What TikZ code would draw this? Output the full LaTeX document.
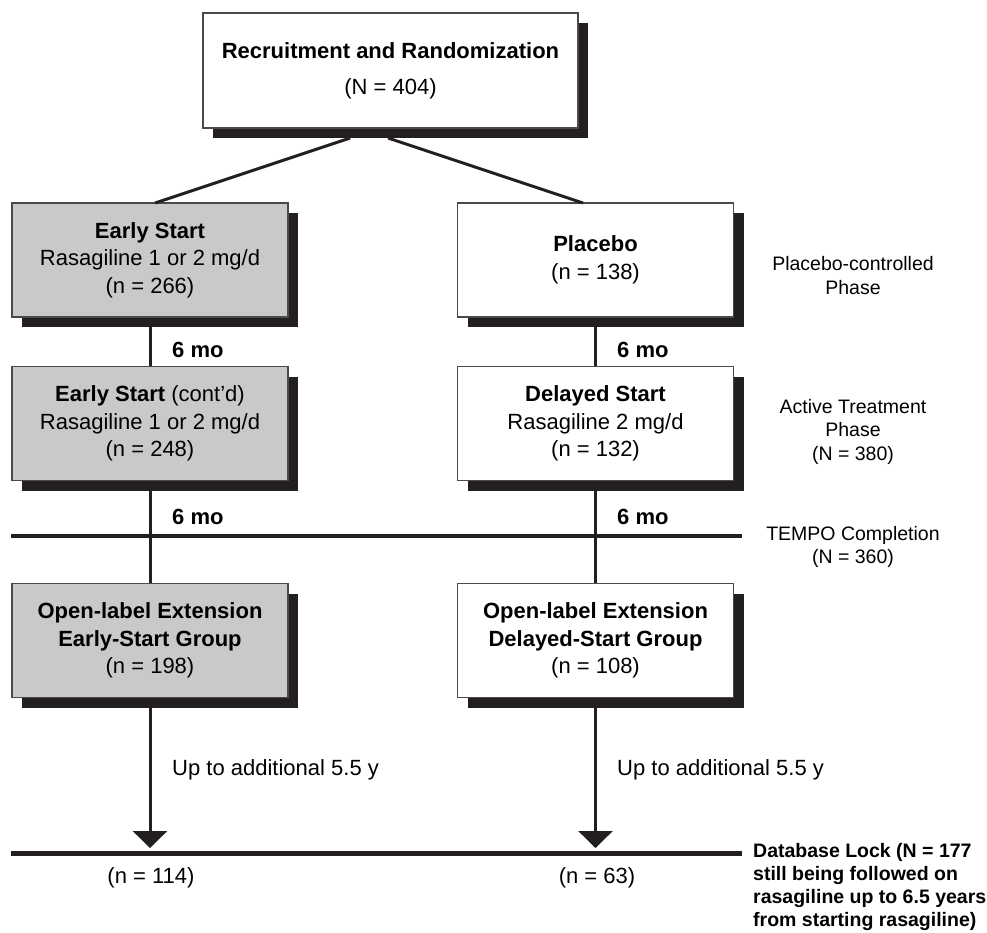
\documentclass[tikz,border=0pt]{standalone}
\usepackage{fontspec}
\setmainfont{Liberation Sans}
\usetikzlibrary{shadows,arrows.meta}

\definecolor{boxgray}{HTML}{C8C9CB}
\definecolor{inkblack}{HTML}{231F20}
\definecolor{rimgray}{HTML}{4A4A4A}

\tikzset{
  armbox/.style={draw=rimgray, line width=1.5pt, align=center,
    minimum width=276pt, minimum height=114pt, inner sep=0pt,
    font=\fontsize{22}{27.5}\selectfont,
    drop shadow={shadow xshift=10pt, shadow yshift=-10pt, fill=inkblack, opacity=1}},
  earlyarm/.style={armbox, fill=boxgray},
  delayarm/.style={armbox, fill=white},
  link/.style={draw=inkblack, line width=3pt},
  phaseline/.style={draw=inkblack, line width=4pt},
  phasetext/.style={align=center, font=\fontsize{19.5}{23.5}\selectfont},
}

\begin{document}
\begin{tikzpicture}[x=1pt, y=-1pt]

        \useasboundingbox (0,0) rectangle (987,932);

        \begin{scope}[every node/.style={armbox}]
          \node[delayarm, minimum width=375pt, minimum height=115pt] (recruit) at (390.5,70.5)
            {\textbf{Recruitment and Randomization}\\[8.5pt](N = 404)};
          \node[earlyarm] (early1) at (150,260)
            {\textbf{Early Start}\\Rasagiline 1 or 2 mg/d\\(n = 266)};
          \node[delayarm] (placebo) at (595.5,260)
            {\textbf{Placebo}\\(n = 138)};
          \node[earlyarm] (early2) at (150,423.5)
            {\textbf{Early Start} (cont'd)\\Rasagiline 1 or 2 mg/d\\(n = 248)};
          \node[delayarm] (delayed) at (595.5,423.5)
            {\textbf{Delayed Start}\\Rasagiline 2 mg/d\\(n = 132)};
          \node[earlyarm] (extearly) at (150,640.5)
            {\textbf{Open-label Extension}\\\textbf{Early-Start Group}\\(n = 198)};
          \node[delayarm] (extdelayed) at (595.5,640.5)
            {\textbf{Open-label Extension}\\\textbf{Delayed-Start Group}\\(n = 108)};
        \end{scope}

        % split below the randomization box
        \coordinate (splitL) at (350,138);
        \coordinate (splitR) at (388,138);
        \coordinate (inL) at (155,203);
        \coordinate (inR) at (583,203);
        \draw[link] (splitL) -- (inL);
        \draw[link] (splitR) -- (inR);

        \begin{scope}[every edge/.style={link}]
          \path (early1)  edge (early2);
          \path (placebo) edge (delayed);
          \path (early2)  edge (extearly);
          \path (delayed) edge (extdelayed);
        \end{scope}

        % phase lines
        \coordinate (tempoW) at (11,536);
        \coordinate (tempoE) at (742,536);
        \coordinate (lockW) at (11,853);
        \coordinate (lockE) at (742,853);
        \draw[phaseline] (tempoW) -- (tempoE);
        \draw[phaseline, line width=5pt] (lockW) -- (lockE);

        \coordinate (tipL) at (150,848);
        \coordinate (tipR) at (595.5,848);
        \draw[link, -{Triangle[length=17pt,width=34pt]}] (extearly) -- (tipL);
        \draw[link, -{Triangle[length=17pt,width=34pt]}] (extdelayed) -- (tipR);

        \begin{scope}[every node/.style={font=\fontsize{22}{27.5}\selectfont, inner sep=0pt}]
          \node[anchor=west] (moA) at (172,350) {\textbf{6 mo}};
          \node[anchor=west] (moB) at (617,350) {\textbf{6 mo}};
          \node[anchor=west] (moC) at (172,517) {\textbf{6 mo}};
          \node[anchor=west] (moD) at (617,517) {\textbf{6 mo}};
          \node[anchor=west] (upL) at (172,770) {Up to additional 5.5 y};
          \node[anchor=west] (upR) at (617,770) {Up to additional 5.5 y};
          \node (countL) at (151,878) {(n = 114)};
          \node (countR) at (597,878) {(n = 63)};
        \end{scope}

        \begin{scope}[every node/.style={phasetext, inner sep=0pt}]
          \node (placebophase) at (853,275.5) {Placebo-controlled\\Phase};
          \node (activephase) at (853,431.5) {Active Treatment\\Phase\\(N = 380)};
          \node (tempo) at (853,547) {TEMPO Completion\\(N = 360)};
        \end{scope}

        \node[anchor=north west, align=left, inner sep=0pt,
          font=\fontsize{19.5}{23}\selectfont\bfseries] (lock) at (753,843)
          {Database Lock (N = 177\\still being followed on\\rasagiline up to 6.5 years\\from starting rasagiline)};

      \end{tikzpicture}
\end{document}
